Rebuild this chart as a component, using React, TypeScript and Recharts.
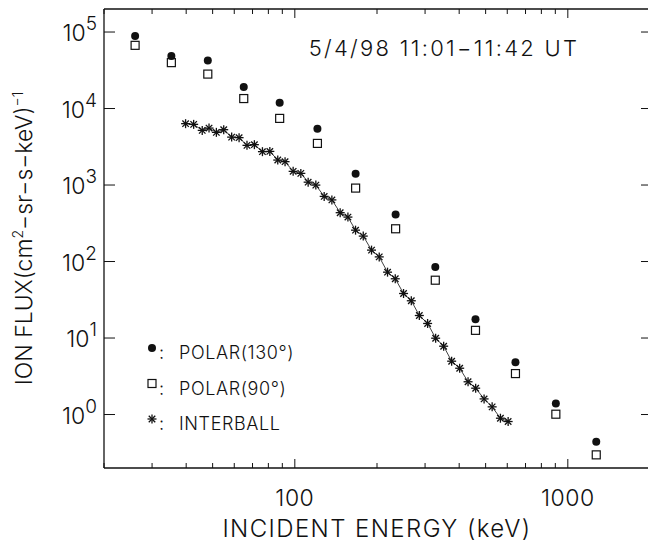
import { ScatterChart, Scatter, XAxis, YAxis, Label } from "recharts";

// energies (keV) of the POLAR channels, shared by both pitch angles
const polarEnergy: number[] = [26, 35.3, 48, 65, 88, 121, 167, 234, 327, 459, 643, 904, 1271];
const polar130Flux: number[] = [88700, 48500, 42300, 19100, 11900, 5460, 1406, 413, 84.5, 17.6, 4.83, 1.39, 0.44];
const polar90Flux: number[] = [67000, 39800, 28200, 13500, 7430, 3500, 912, 268, 57, 12.6, 3.43, 1.01, 0.297];

const interballEnergy: number[] = [
    39.8, 42.6, 45.8, 48.5, 51.6, 54.9, 58.7, 62.5, 66.8, 71.1, 76.1, 81.0, 86.6, 92.1,
    98.6, 105.2, 111.9, 119.4, 128.1, 136.7, 146.6, 156.5, 166.9, 178.1, 191, 203.8, 218.6, 233.3,
    250.2, 267.1, 285.8, 306.5, 328, 350.9, 375.4, 401.7, 431.1, 459.7, 493.5, 528.2, 566.4, 604.5,
];
const interballFlux: number[] = [
    6340, 6210, 5180, 5550, 4880, 5290, 4230, 4160, 3300, 3370, 2730, 2750, 2120, 2020,
    1510, 1420, 1090, 998, 710, 639, 435, 381, 257, 215, 141, 115, 72.6, 59.5,
    38.2, 30.7, 19.7, 15.5, 9.95, 7.82, 4.98, 4.03, 2.68, 2.21, 1.6, 1.26, 0.895, 0.81,
];

const xTicks: number[] = [20, 30, 40, 50, 60, 70, 80, 90, 100, 200, 300, 400, 500, 600, 700, 800, 900, 1000, 2000];
const xMajor: number[] = [100, 1000];
const yTicks: number[] = [1, 10, 100, 1000, 10000, 100000];

const title = "5/4/98 11:01\u221211:42 UT";
const legendNames: string[] = ["POLAR(130\u00b0)", "POLAR(90\u00b0)", "INTERBALL"];

const FONT = "Inter, 'DejaVu Sans', sans-serif";
const INK = "#111";

const polar130 = polarEnergy.map((energy, i) => ({ energy, flux: polar130Flux[i] }));
const polar90 = polarEnergy.map((energy, i) => ({ energy, flux: polar90Flux[i] }));
const interball = interballEnergy.map((energy, i) => ({ energy, flux: interballFlux[i] }));

const Dot = ({ cx, cy }: any) => <circle cx={cx} cy={cy} r={4} fill={INK} />;
const Box = ({ cx, cy }: any) => (
    <rect x={cx - 4} y={cy - 4} width={8} height={8} fill="none" stroke={INK} strokeWidth={1.2} />
);
const Star = ({ cx, cy }: any) => {
    const r = 4.5;
    const d = r * 0.72;
    return (
        <g stroke={INK} strokeWidth={1.3}>
            <line x1={cx} y1={cy - r} x2={cx} y2={cy + r} />
            <line x1={cx - r} y1={cy} x2={cx + r} y2={cy} />
            <line x1={cx - d} y1={cy - d} x2={cx + d} y2={cy + d} />
            <line x1={cx - d} y1={cy + d} x2={cx + d} y2={cy - d} />
        </g>
    );
};

const BottomTick = ({ x, y, payload }: any) => {
    const major = xMajor.includes(payload.value);
    return (
        <g>
            <line x1={x} x2={x} y1={y} y2={y - (major ? 9 : 5)} stroke={INK} />
            {major && (
                <text x={x} y={y + 38} textAnchor="middle" fontSize={23} letterSpacing={0.5} fontFamily={FONT} fontWeight={300} fill={INK}>
                    {payload.value}
                </text>
            )}
        </g>
    );
};

const TopTick = ({ x, y, payload }: any) => {
    const major = xMajor.includes(payload.value);
    return <line x1={x} x2={x} y1={y} y2={y + (major ? 9 : 5)} stroke={INK} />;
};

const LeftTick = ({ x, y, payload }: any) => (
    <g>
        <line x1={x} x2={x + 11} y1={y} y2={y} stroke={INK} />
        <text x={x - 7} y={y + 9} textAnchor="end" fontSize={23} fontFamily={FONT} fontWeight={300} fill={INK}>
            10
            <tspan dy={-11} fontSize={19}>{Math.round(Math.log10(payload.value))}</tspan>
        </text>
    </g>
);

const RightTick = ({ x, y }: any) => <line x1={x} x2={x - 9} y1={y} y2={y} stroke={INK} />;

const XTitle = ({ viewBox }: any) => (
    <text
        x={viewBox.x + viewBox.width / 2}
        y={viewBox.y + 69}
        textAnchor="middle"
        fontSize={24}
        letterSpacing={1.4}
        fontFamily={FONT}
        fontWeight={300}
        fill={INK}
    >
        INCIDENT ENERGY (keV)
    </text>
);

const YTitle = ({ viewBox }: any) => (
    <text
        transform={`translate(32, ${viewBox.y + viewBox.height / 2}) rotate(-90)`}
        textAnchor="middle"
        fontSize={23}
        fontFamily={FONT}
        fontWeight={300}
        fill={INK}
    >
        ION FLUX(cm
        <tspan dy={-9} fontSize={14}>2</tspan>
        <tspan dy={9}>{"\u2212sr\u2212s\u2212keV)"}</tspan>
        <tspan dy={-9} fontSize={14}>{"\u22121"}</tspan>
    </text>
);

const legendMarks = [Dot, Box, Star];

export default function App() {
    return (
        <div style={{ position: "fixed", left: 0, top: 0, width: 648, height: 547, overflow: "hidden", background: "#fff" }}>
            <ScatterChart width={660} height={547} margin={{ top: 0, right: 0, bottom: 0, left: 0 }}>
                <XAxis
                    dataKey="energy"
                    type="number"
                    scale="log"
                    domain={[20, 2000]}
                    allowDataOverflow
                    ticks={xTicks}
                    interval={0}
                    height={79}
                    tickSize={0}
                    tickMargin={0}
                    tickLine={false}
                    axisLine={{ stroke: INK, strokeWidth: 1.3 }}
                    tick={<BottomTick />}
                >
                    <Label content={<XTitle />} />
                </XAxis>
                <XAxis
                    xAxisId="top"
                    orientation="top"
                    dataKey="energy"
                    type="number"
                    scale="log"
                    domain={[20, 2000]}
                    allowDataOverflow
                    ticks={xTicks}
                    interval={0}
                    height={9}
                    tickSize={0}
                    tickMargin={0}
                    tickLine={false}
                    axisLine={{ stroke: INK, strokeWidth: 1.3 }}
                    tick={<TopTick />}
                />
                <YAxis
                    dataKey="flux"
                    type="number"
                    scale="log"
                    domain={[0.2, 200000]}
                    allowDataOverflow
                    ticks={yTicks}
                    interval={0}
                    width={104}
                    tickSize={0}
                    tickMargin={0}
                    tickLine={false}
                    axisLine={{ stroke: INK, strokeWidth: 1.3 }}
                    tick={<LeftTick />}
                >
                    <Label content={<YTitle />} />
                </YAxis>
                <YAxis
                    yAxisId="right"
                    orientation="right"
                    dataKey="flux"
                    type="number"
                    scale="log"
                    domain={[0.2, 200000]}
                    allowDataOverflow
                    ticks={yTicks}
                    interval={0}
                    width={10}
                    tickSize={0}
                    tickMargin={0}
                    tickLine={false}
                    axisLine={{ stroke: INK, strokeWidth: 1.3 }}
                    tick={<RightTick />}
                />
                <Scatter name="INTERBALL" data={interball} shape={<Star />} line={{ stroke: INK, strokeWidth: 0.8 }} lineType="joint" isAnimationActive={false} />
                <Scatter name="POLAR(130)" data={polar130} shape={<Dot />} isAnimationActive={false} />
                <Scatter name="POLAR(90)" data={polar90} shape={<Box />} isAnimationActive={false} />

                <text x={444} y={56} textAnchor="middle" fontSize={22} letterSpacing={2.3} fontFamily={FONT} fontWeight={300} fill={INK}>
                    {title}
                </text>
                <g fontFamily={FONT} fontWeight={300} fontSize={18} fill={INK}>
                    {legendNames.map((name, i) => {
                        const Mark = legendMarks[i];
                        const base = 359 + i * 35.5;
                        return (
                            <g key={name}>
                                <Mark cx={152} cy={base - 11} />
                                <text x={159} y={base}>:</text>
                                <text x={179} y={base} letterSpacing={0.6}>{name}</text>
                            </g>
                        );
                    })}
                </g>
            </ScatterChart>
        </div>
    );
}
